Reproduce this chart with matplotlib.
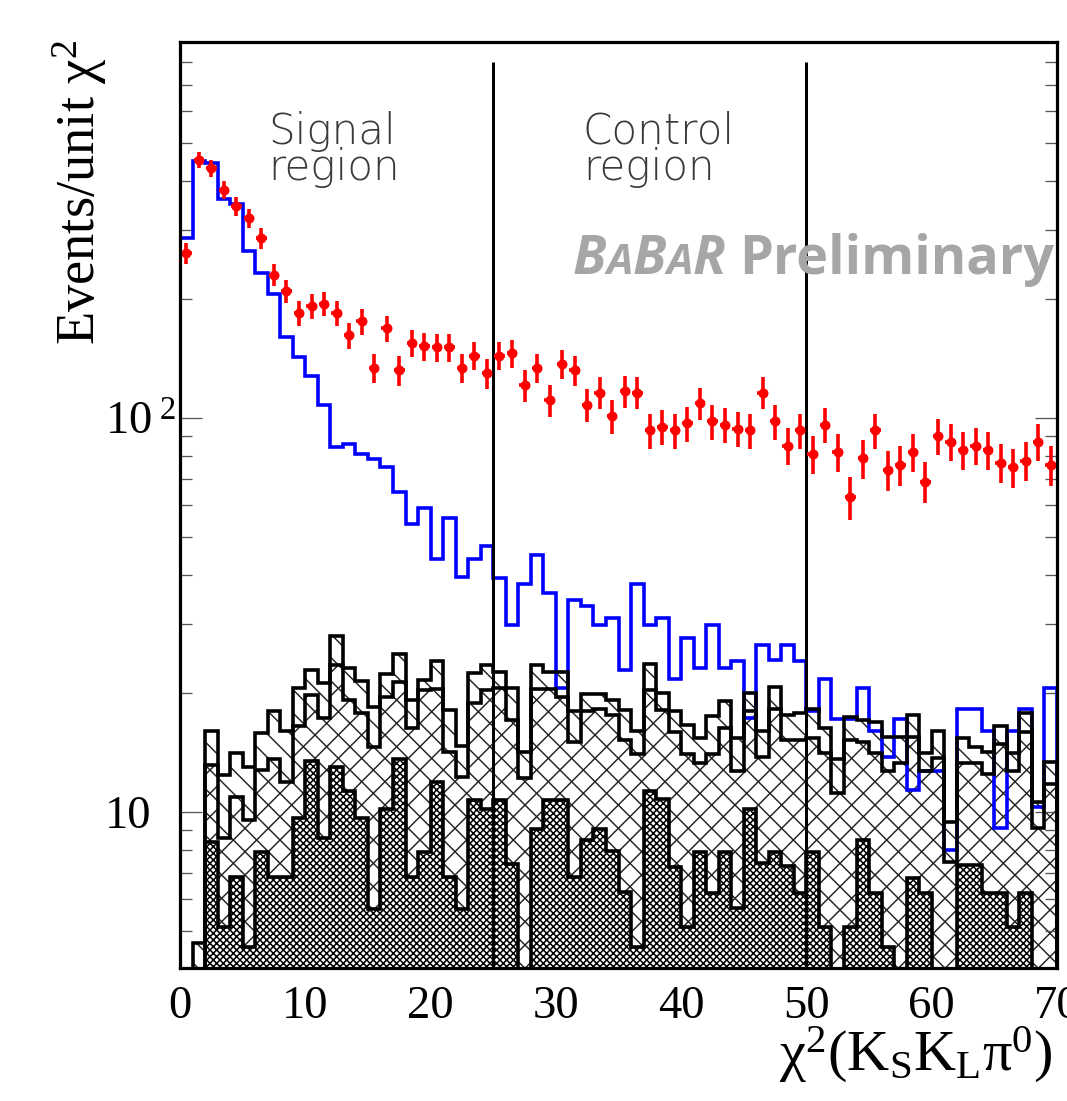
import numpy as np
import matplotlib
matplotlib.use("Agg")
import matplotlib.pyplot as plt
from matplotlib.ticker import LogLocator, NullFormatter

DPI = 140
W_PX, H_PX = 1067, 1101

plt.rcParams["font.family"] = ["Liberation Serif", "DejaVu Serif"]
plt.rcParams["mathtext.fontset"] = "custom"
plt.rcParams["mathtext.rm"] = "Liberation Serif"
plt.rcParams["mathtext.it"] = "Liberation Serif:italic"
plt.rcParams["mathtext.bf"] = "Liberation Serif:bold"
plt.rcParams["hatch.color"] = "#222222"
plt.rcParams["hatch.linewidth"] = 0.75

# unit-width bins of chi2(KsKlpi0), 0..70
chi2_edges = np.arange(0, 71, 1)

# data, events per unit chi2
data_counts = [262, 452, 430, 380, 345, 321, 286, 231, 210, 185,
               192, 195, 185, 162, 176, 134, 169, 132, 155, 152,
               151, 151, 134, 144, 130, 144, 146, 121, 134, 111,
               137, 132, 108, 116, 101, 117, 116, 93, 95, 93,
               97, 109, 98, 96, 94, 93, 116, 98, 85, 93,
               81, 96, 82, 63, 79, 93, 74, 76, 82, 69,
               90, 87, 83, 85, 83, 77, 75, 78, 87, 76]

# signal simulation (blue line)
signal_mc = [286, 450, 443, 359, 349, 266, 234, 207, 161, 143,
             128, 108, 84.3, 85.8, 81.1, 78.6, 75.2, 64.8, 53.8, 59.0,
             43.9, 55.6, 39.4, 43.8, 47.3, 39.2, 29.8, 38.0, 44.9, 35.9,
             20.6, 34.5, 33.3, 29.8, 31.0, 23.0, 38.0, 29.8, 31.0, 21.8,
             27.6, 23.2, 29.8, 23.2, 24.2, 17.3, 26.5, 24.3, 26.5, 24.2,
             18.0, 21.7, 17.2, 17.2, 20.7, 16.1, 13.8, 17.2, 11.4, 12.7,
             12.7, 8.0, 18.3, 18.3, 16.1, 9.1, 16.1, 18.3, 10.3, 20.6]

# stacked backgrounds, cumulative (total, first two, first one)
bkg_total = [0, 4.66, 16.1, 12.4, 14.1, 13.0, 15.9, 18.0, 16.1, 20.6,
             22.9, 21.3, 27.9, 23.2, 21.5, 18.5, 22.4, 25.2, 19.2, 21.6,
             24.2, 18.2, 14.7, 22.5, 23.6, 22.7, 20.6, 14.2, 23.6, 22.7,
             22.7, 18.0, 19.9, 19.9, 19.3, 18.2, 16.1, 23.8, 20.1, 18.0,
             16.6, 15.4, 17.5, 19.1, 15.4, 20.0, 16.1, 20.8, 17.6, 17.8,
             18.3, 16.3, 13.6, 17.4, 17.1, 16.9, 15.5, 15.5, 17.6, 14.1,
             16.1, 9.45, 15.4, 14.6, 14.2, 16.5, 14.1, 17.8, 10.6, 13.4]

bkg_two = [0, 0, 13.2, 8.58, 10.9, 9.54, 12.8, 13.6, 11.9, 16.5,
           19.8, 17.3, 23.6, 19.2, 17.8, 14.6, 19.6, 21.4, 16.3, 20.4,
           20.5, 14.2, 12.3, 18.9, 20.4, 20.6, 17.1, 12.2, 20.5, 20.5,
           19.6, 15.1, 18.0, 18.3, 17.6, 15.2, 14.0, 20.4, 18.2, 16.0,
           14.0, 13.3, 14.0, 16.3, 12.7, 18.0, 13.8, 18.3, 15.2, 15.2,
           15.4, 14.1, 11.2, 15.2, 15.1, 14.1, 12.7, 13.3, 15.5, 12.7,
           13.7, 7.48, 13.3, 13.3, 12.5, 14.9, 12.7, 16.0, 9.09, 11.8]

bkg_one = [0, 0, 8.41, 5.12, 6.83, 4.55, 7.90, 6.85, 6.85, 9.64,
           13.5, 8.58, 13.0, 11.3, 9.64, 5.66, 10.2, 13.6, 6.85, 7.93,
           11.9, 6.85, 5.66, 10.7, 10.2, 10.7, 7.38, 0, 9.04, 10.7,
           10.7, 6.83, 8.49, 9.04, 7.97, 6.28, 4.55, 11.3, 10.8, 7.26,
           5.12, 7.93, 6.22, 7.93, 5.70, 10.2, 7.44, 7.93, 7.29, 6.22,
           7.93, 5.12, 0, 5.12, 8.49, 6.22, 4.55, 0, 6.79, 6.22,
           0, 0, 7.34, 7.34, 6.22, 6.22, 5.12, 6.22, 0, 0]

region_cuts = [25, 50]
region_names = [("Signal\nregion", 268), ("Control\nregion", 583)]


def pt(pix):
    return pix * 72.0 / DPI


def fx(pix):
    return pix / W_PX


def fy(pix):
    return 1.0 - pix / H_PX


FLOOR = 1.0


def positive(v):
    v = np.asarray(v, dtype=float)
    return np.where(v > 0, v, FLOOR)


fig = plt.figure(figsize=(W_PX / DPI, H_PX / DPI), dpi=DPI)
ax = fig.add_axes([fx(180), fy(968), fx(1057) - fx(180), fy(42) - fy(968)])
ax.set_yscale("log")
ax.set_xlim(0, 70)
ax.set_ylim(4.02, 900)

top = positive(bkg_total)
mid = positive(bkg_two)
low = positive(bkg_one)

# hatched fills, ROOT style: each cumulative histogram filled from the bottom
ax.stairs(top, chi2_edges, baseline=FLOOR, fill=True, facecolor="none",
          edgecolor="#222222", linewidth=0, hatch="\\\\", zorder=1)
ax.stairs(mid, chi2_edges, baseline=FLOOR, fill=True, facecolor="none",
          edgecolor="#222222", linewidth=0, hatch="//", zorder=1.1)
with plt.rc_context({"hatch.linewidth": 0.8}):
    dark = ax.stairs(low, chi2_edges, baseline=FLOOR, fill=True, facecolor="white",
                     edgecolor="black", linewidth=0, hatch="xxxxxxx", zorder=1.2)
if hasattr(dark, "set_hatch_linewidth"):
    dark.set_hatch_linewidth(0.8)

ax.stairs(positive(signal_mc), chi2_edges, baseline=FLOOR, color="#0000ff",
          linewidth=pt(3.6), zorder=2.5)
for vals in (top, mid, low):
    ax.stairs(vals, chi2_edges, baseline=FLOOR, color="black", linewidth=pt(3.6), zorder=3)

ax.vlines(region_cuts, 4.02, 800, colors="black", linewidth=pt(3), zorder=4)

centers = chi2_edges[:-1] + 0.5
counts = np.asarray(data_counts, dtype=float)
ax.errorbar(centers, counts, yerr=np.sqrt(counts), xerr=0.42, fmt="o",
            color="#ff0000", ms=pt(8), elinewidth=pt(3.6), capsize=0, zorder=5)

for side in ax.spines.values():
    side.set_linewidth(pt(3.2))
    side.set_zorder(6)

# ticks
ax.set_xticks(np.arange(0, 71, 10))
ax.tick_params(axis="x", which="both", length=0, pad=pt(17), labelsize=24)
ax.set_yticks([10, 100], labels=["10", r"$\mathrm{10^{\ 2}}$"])
ax.yaxis.set_minor_locator(LogLocator(base=10, subs=np.arange(2, 10)))
ax.yaxis.set_minor_formatter(NullFormatter())
ax.tick_params(axis="y", which="both", direction="in", left=True, right=True,
               color="#555555", width=pt(1.3))
ax.tick_params(axis="y", which="major", length=pt(22), pad=pt(75), labelsize=24)
ax.tick_params(axis="y", which="minor", length=pt(12))
plt.setp(ax.get_yticklabels(), ha="left")

fig.text(fx(80), fy(40), r"Events/unit $\mathrm{χ^{2}}$", rotation=90,
         ha="center", va="top", fontsize=28)
fig.text(fx(1053), fy(1071), r"$\mathrm{χ^{2}(K_{S}K_{L}π^{0})}$",
         ha="right", va="baseline", fontsize=30)

# region labels
for name, left in region_names:
    fig.text(fx(left), fy(111), name, family="DejaVu Sans", weight="light",
             fontsize=pt(42), color="#3a3a3a", va="top", ha="left", linespacing=0.85)

# BaBar preliminary stamp
renderer = fig.canvas.get_renderer()
x_cur = 573
big, small = pt(54), pt(42)
pieces = [("B", big, "italic", 0), ("A", small, "italic", 0), ("B", big, "italic", 0),
          ("A", small, "italic", 0), ("R", big, "italic", 14), ("Preliminary", big, "normal", 0)]
for s, size, style, gap in pieces:
    t = fig.text(fx(x_cur), fy(274), s, family=["Open Sans", "DejaVu Sans"],
                 weight="bold", style=style, fontsize=size, color="#a6a6a6",
                 va="baseline", ha="left", zorder=10)
    x_cur += t.get_window_extent(renderer).width + gap

fig.savefig("out.png", dpi=DPI)
